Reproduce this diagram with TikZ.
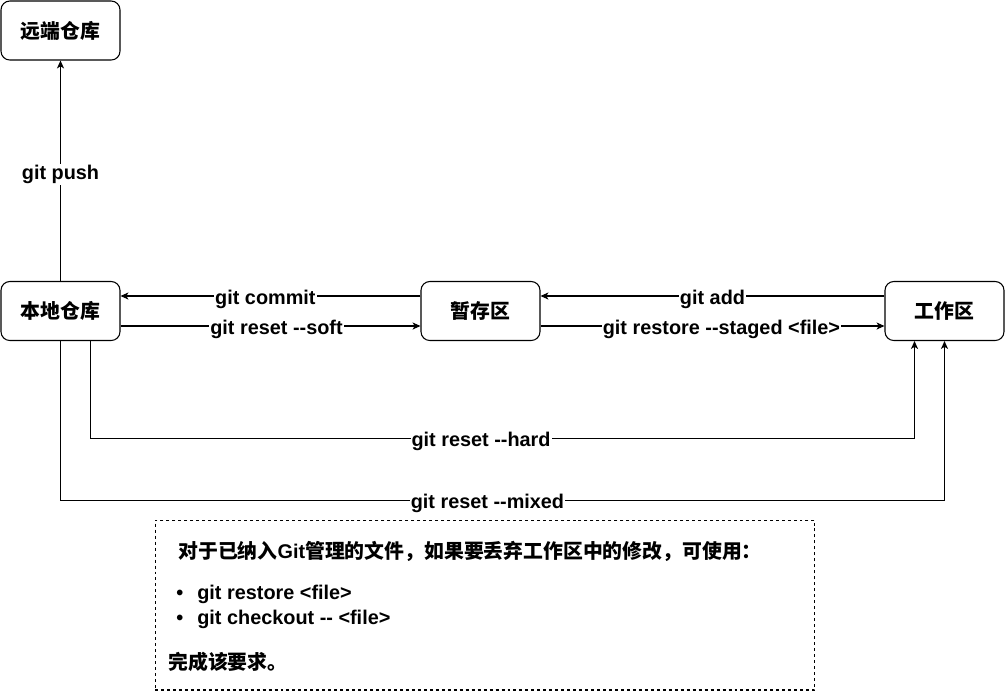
\documentclass[tikz,border=0pt]{standalone}
\usepackage{fontspec}
\setmainfont{Liberation Sans}
\newfontfamily\cjk{Noto Sans CJK SC}
\usetikzlibrary{arrows.meta}

\begin{document}
\begin{tikzpicture}[x=0.02cm, y=-0.02cm, every node/.style={font=\fontsize{11.3}{13.6}\selectfont\bfseries},
  box/.style={draw, line width=0.6pt, rounded corners=5pt, minimum width=2.38cm, minimum height=1.18cm, font=\fontsize{11.3}{13.6}\selectfont\cjk\bfseries},
  arr/.style={line width=0.6pt, -{Stealth[length=4.5pt,width=4pt,inset=1.2pt]}},
  lbl/.style={fill=white, inner sep=0.6pt, yshift=-0.07cm}]
\useasboundingbox (0,0) rectangle (1005,691);
\node[box] (remote) at (60.5,30.5) {远端仓库};
\node[box] (local) at (60.5,311) {本地仓库};
\node[box] (stage) at (480.5,311) {暂存区};
\node[box] (work) at (944.5,311) {工作区};
\draw[arr] (local) -- node[lbl] {git push} (remote);
\draw[arr] ([yshift=0.3cm]stage.west) -- node[lbl, pos=0.517] {git commit} ([yshift=0.3cm]local.east);
\draw[arr] ([yshift=-0.3cm]local.east) -- node[lbl, pos=0.52] {git reset -{}-soft} ([yshift=-0.3cm]stage.west);
\draw[arr] ([yshift=0.3cm]work.west) -- node[lbl] {git add} ([yshift=0.3cm]stage.east);
\draw[arr] ([yshift=-0.3cm]stage.east) -- node[lbl, pos=0.526] {git restore -{}-staged <file>} ([yshift=-0.3cm]work.west);
\draw[arr] ([xshift=0.6cm]local.south) -- ++(0,97) -| node[lbl, pos=0.237] {git reset -{}-hard} ([xshift=-0.6cm]work.south);
\draw[arr] (local.south) -- ++(0,159) -| node[lbl, pos=0.2415] {git reset -{}-mixed} (work.south);
% note
\node[draw, line width=0.6pt, dash pattern=on 1.7pt off 1.7pt, minimum width=13.2cm, minimum height=3.4cm] (note) at (485,605) {};
\node[anchor=west, inner sep=0pt] (t1) at (178,551) {{\cjk 对于已纳入}Git{\cjk 管理的文件，如果要丢弃工作区中的修改，可使用：}};
\node[anchor=west, inner sep=0pt] (b1) at (176,594) {•\hspace{8pt}git restore <file>};
\node[anchor=west, inner sep=0pt] (b2) at (176,619) {•\hspace{8pt}git checkout -{}- <file>};
\node[anchor=west, inner sep=0pt] (t2) at (168,662) {\cjk 完成该要求。};
\end{tikzpicture}
\end{document}
